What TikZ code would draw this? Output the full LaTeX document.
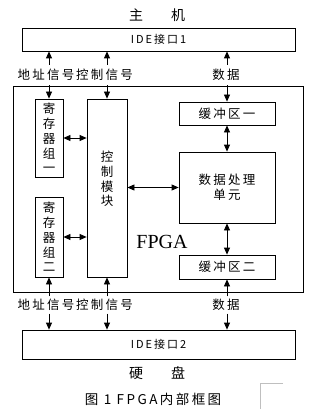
\documentclass[tikz,border=0pt]{standalone}
\usepackage{fontspec}
\setmainfont{Liberation Serif}
\newfontfamily\cjk{Noto Sans CJK SC}
\newfontfamily\cjkwide[LetterSpace=18]{Noto Sans CJK SC}
\usetikzlibrary{arrows.meta, positioning}

\begin{document}
\begin{tikzpicture}[x=1pt, y=-1pt,
  box/.style={draw, line width=0.8pt, inner sep=0pt},
  lbl/.style={font=\cjkwide\fontsize{12.5}{14}\selectfont, inner sep=0pt},
  vtxt/.style={font=\cjk\fontsize{12.5}{14.8}\selectfont, align=center, inner sep=0pt},
  arr/.style={-{Triangle[width=6pt,length=7pt]}, line width=0.8pt},
  dbl/.style={{Triangle[width=6pt,length=7pt]}-{Triangle[width=6pt,length=7pt]}, line width=0.8pt}]
\useasboundingbox (0,0) rectangle (311,409);

% host side
\node[font=\cjk\fontsize{14}{16}\selectfont] (host) at (157,15) {主\hspace{2em}机};
\node[box, minimum width=273pt, minimum height=23pt, font=\cjkwide\fontsize{11}{13}\selectfont] (ide1) at (158.5,39.5) {IDE接口1};

% FPGA
\node[box, minimum width=290pt, minimum height=206pt] (fpga) at (158,189) {};
\node[font=\fontsize{20}{22}\selectfont] (fpgalbl) at (162,242) {FPGA};
\node[box, vtxt, minimum width=28pt, minimum height=78pt] (reg1) at (49,138) {寄\\存\\器\\组\\一};
\node[box, vtxt, minimum width=28pt, minimum height=80pt] (reg2) at (49,237) {寄\\存\\器\\组\\二};
\node[box, minimum width=40pt, minimum height=178pt] (ctrl) at (107,188) {};
\node[vtxt] (ctrltext) at (107,179) {控\\制\\模\\块};
\node[box, vtxt, minimum width=96pt, minimum height=23pt] (buf1) at (227,113.5) {\cjkwide 缓冲区一};
\node[box, vtxt, minimum width=96pt, minimum height=71pt] (dpu) at (227,187.5) {\cjkwide 数据处理\\\cjkwide 单元};
\node[box, vtxt, minimum width=96pt, minimum height=24pt] (buf2) at (227,267) {\cjkwide 缓冲区二};

% disk side
\node[box, minimum width=273pt, minimum height=29pt, font=\cjkwide\fontsize{11}{13}\selectfont] (ide2) at (158.5,344.5) {IDE接口2};
\node[font=\cjk\fontsize{14}{16}\selectfont] (disk) at (157,373) {硬\hspace{2em}盘};
\node[font=\cjkwide\fontsize{13.5}{15}\selectfont] (caption) at (153,399) {图 1 FPGA内部框图};

% signal labels
\node[lbl, minimum height=20pt] (addrT) at (46,75) {地址信号};
\node[lbl, minimum height=20pt] (ctrlT) at (104.5,75) {控制信号};
\node[lbl, minimum height=20pt] (dataT) at (226,75) {数据};
\node[lbl, minimum height=17pt] (addrB) at (46,305) {地址信号};
\node[lbl, minimum height=17pt] (ctrlB) at (104.5,305) {控制信号};
\node[lbl, minimum height=17pt] (dataB) at (226,305) {数据};

% connections
\draw[arr] (addrT.north -| reg1) -- (reg1 |- ide1.south);
\draw[arr] (addrT.south -| reg1) -- (reg1.north);
\draw[arr] (ctrlT.north -| ctrl) -- (ctrl |- ide1.south);
\draw[arr] (ctrlT.south -| ctrl) -- (ctrl.north);
\draw[arr] (dataT.north -| buf1) -- (buf1 |- ide1.south);
\draw[arr] (dataT.south -| buf1) -- (buf1.north);
\draw[dbl] (reg1.east) -- (reg1.east -| ctrl.west);
\draw[dbl] (reg2.east) -- (reg2.east -| ctrl.west);
\draw[dbl] (ctrl.east |- dpu) -- (dpu.west);
\draw[dbl] (buf1.south) -- (dpu.north);
\draw[dbl] (dpu.south) -- (buf2.north);
\draw[arr] (addrB.north -| reg2) -- (reg2.south);
\draw[arr] (addrB.south -| reg2) -- (reg2 |- ide2.north);
\draw[arr] (ctrlB.north -| ctrl) -- (ctrl.south);
\draw[arr] (ctrlB.south -| ctrl) -- (ctrl |- ide2.north);
\draw[arr] (dataB.north -| buf2) -- (buf2.south);
\draw[arr] (dataB.south -| buf2) -- (buf2 |- ide2.north);

% corner mark
\draw[gray!50, line width=0.8pt] (283,383) -- (260,383) -- (260,409);
\end{tikzpicture}
\end{document}
